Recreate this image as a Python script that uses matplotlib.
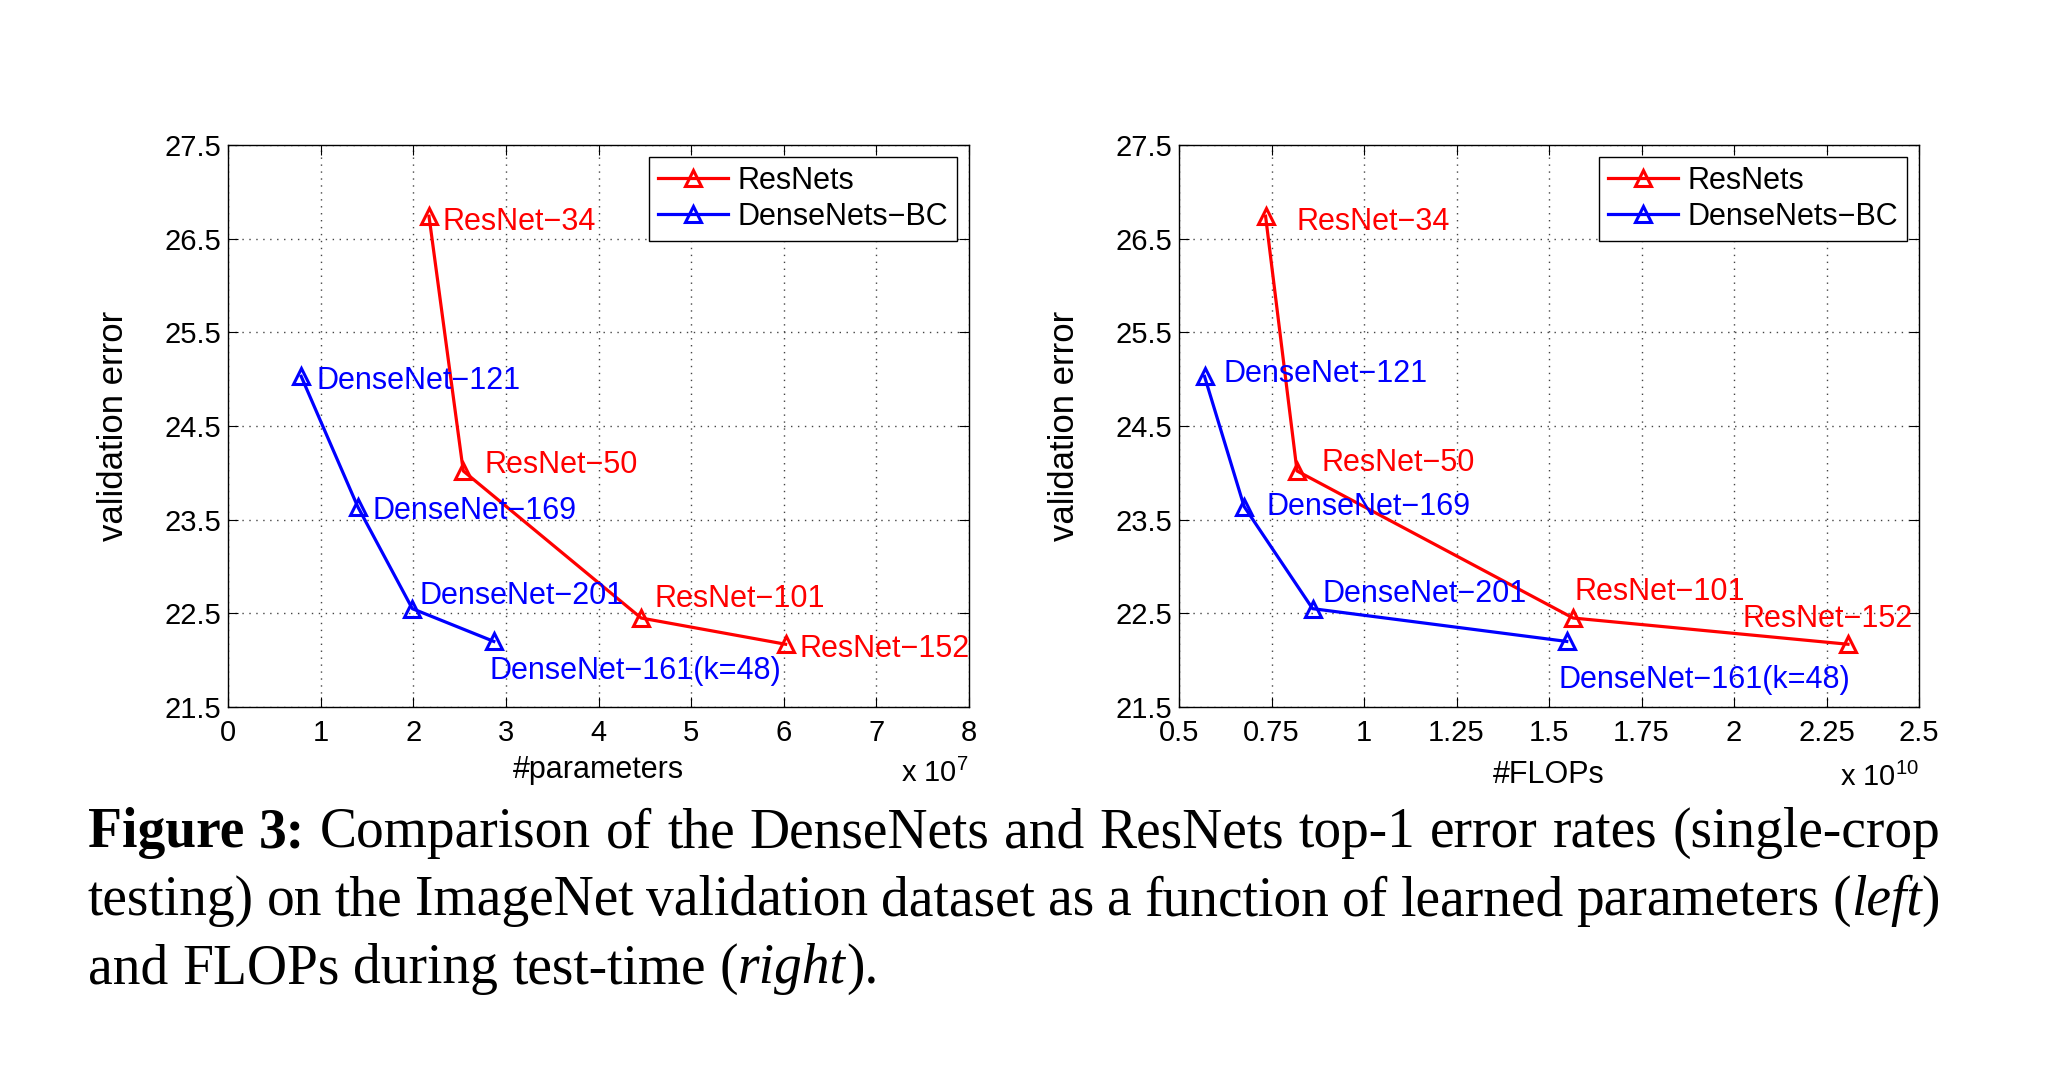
import re
import matplotlib
matplotlib.use('Agg')
import matplotlib.pyplot as plt
from matplotlib.ticker import FuncFormatter

plt.rcParams['font.family'] = ['Liberation Sans', 'DejaVu Sans']
plt.rcParams['mathtext.fontset'] = 'custom'
plt.rcParams['mathtext.rm'] = 'Liberation Sans'
plt.rcParams['mathtext.it'] = 'Liberation Sans:italic'

# valores
resnet_names = ['ResNet−34', 'ResNet−50', 'ResNet−101', 'ResNet−152']
resnet_err = [26.74, 24.02, 22.45, 22.17]
resnet_params = [2.17, 2.54, 4.46, 6.02]      # x 1e7
resnet_flops = [0.734, 0.819, 1.565, 2.308]   # x 1e10

densenet_names = ['DenseNet−121', 'DenseNet−169', 'DenseNet−201', 'DenseNet−161(k=48)']
densenet_err = [25.03, 23.64, 22.55, 22.20]
densenet_params = [0.79, 1.40, 1.99, 2.87]
densenet_flops = [0.569, 0.676, 0.861, 1.548]

params_ticks = [0, 1, 2, 3, 4, 5, 6, 7, 8]
flops_ticks = [0.5, 0.75, 1, 1.25, 1.5, 1.75, 2, 2.25, 2.5]
err_ticks = [21.5, 22.5, 23.5, 24.5, 25.5, 26.5, 27.5]

# desplazamiento de las etiquetas (pixeles)
left_res_off = [(14, -2), (21, 9), (13, 23), (14, -1)]
left_dense_off = [(15, -1), (15, -1), (7, 16), (-4, -26)]
right_res_off = [(31, -2), (24, 11), (1, 30), (-105, 29)]
right_dense_off = [(19, 6), (22, 3), (10, 18), (-8, -35)]

caption_lines = [
    "**Figure** **3:** Comparison of the DenseNets and ResNets top-1 error rates (single-crop",
    "testing) on the ImageNet validation dataset as a function of learned parameters (*left*)",
    "and FLOPs during test-time (*right*).",
]

W, H = 2048, 1075
fig = plt.figure(figsize=(W / 100, H / 100), dpi=100)

ax1 = fig.add_axes([228 / W, 1 - 707 / H, 741 / W, 562 / H])
ax2 = fig.add_axes([1179 / W, 1 - 707 / H, 740 / W, 562 / H])


def draw_panel(ax, xr, xd, res_off, dense_off, xticks, xlabel, expo, xlab_y, expo_y):
    ax.plot(xr, resnet_err, '-^', color='#ff0000', lw=2.3, ms=12, mfc='none',
            mew=2.2, label='ResNets', zorder=3)
    ax.plot(xd, densenet_err, '-^', color='#0000ff', lw=2.3, ms=12, mfc='none',
            mew=2.2, label='DenseNets−BC', zorder=3)
    for name, x, y, off in zip(resnet_names, xr, resnet_err, res_off):
        ax.annotate(name, (x, y), xytext=off, textcoords='offset pixels',
                    color='#ff0000', fontsize=22, ha='left', va='center_baseline')
    for name, x, y, off in zip(densenet_names, xd, densenet_err, dense_off):
        ax.annotate(name, (x, y), xytext=off, textcoords='offset pixels',
                    color='#0000ff', fontsize=22, ha='left', va='center_baseline')

    ax.set_xlim(xticks[0], xticks[-1])
    ax.set_ylim(err_ticks[0], err_ticks[-1])
    ax.set_xticks(xticks)
    ax.set_yticks(err_ticks)
    ax.xaxis.set_major_formatter(FuncFormatter(lambda v, p: '%g' % v))
    ax.yaxis.set_major_formatter(FuncFormatter(lambda v, p: '%.1f' % v))
    ax.tick_params(direction='in', top=True, right=True, length=7, width=0.8,
                   labelsize=21, colors='black')
    ax.tick_params(axis='x', pad=8.5)
    ax.tick_params(axis='y', pad=5)
    ax.grid(True, color='#444444', linestyle=(0, (1, 4)), linewidth=1.0)
    ax.set_axisbelow(True)
    for s in ax.spines.values():
        s.set_linewidth(1.0)
        s.set_color('black')

    ax.set_xlabel(xlabel, fontsize=22, va='center')
    ax.xaxis.set_label_coords(0.5, -xlab_y / 562)
    ax.set_ylabel('validation error', fontsize=25, va='center')
    ax.yaxis.set_label_coords(-114 / 740, 0.5)
    ax.text(1.0, -expo_y / 562, r'x 10$^{%d}$' % expo, transform=ax.transAxes,
            ha='right', va='baseline', fontsize=21)

    leg = ax.legend(loc='upper right', fontsize=22, frameon=True, fancybox=False,
                    framealpha=1, edgecolor='black', borderaxespad=0.38,
                    handlelength=2.3, handletextpad=0.3, labelspacing=0.2,
                    borderpad=0.3, numpoints=1)
    leg.get_frame().set_linewidth(1.0)


draw_panel(ax1, resnet_params, densenet_params, left_res_off, left_dense_off,
           params_ticks, '#parameters', 7, 63, 75)
draw_panel(ax2, resnet_flops, densenet_flops, right_res_off, right_dense_off,
           flops_ticks, '#FLOPs', 10, 68, 79)

# pie de figura justificado
renderer = fig.canvas.get_renderer()
x0, x1 = 88, 1940
baselines = [847, 915, 983]
for i, (line, yb) in enumerate(zip(caption_lines, baselines)):
    words = []
    for w in line.split(' '):
        segs = []
        for piece in re.split(r'(\*\*[^*]+\*\*|\*[^*]+\*)', w):
            if not piece:
                continue
            if piece.startswith('**'):
                segs.append((piece[2:-2], 'bold', 'normal'))
            elif piece.startswith('*'):
                segs.append((piece[1:-1], 'normal', 'italic'))
            else:
                segs.append((piece, 'normal', 'normal'))
        texts = [fig.text(0, 1 - yb / H, s, fontsize=40, family='Liberation Serif',
                          fontweight=fw, style=st, va='baseline', ha='left')
                 for s, fw, st in segs]
        widths = [t.get_window_extent(renderer).width for t in texts]
        words.append((texts, widths))
    total = sum(sum(wd) for _, wd in words)
    if i < len(caption_lines) - 1:
        gap = (x1 - x0 - total) / (len(words) - 1)
    else:
        gap = 0.25 * 40 / 72 * 100
    x = x0
    for texts, widths in words:
        for t, wd in zip(texts, widths):
            t.set_x(x / W)
            x += wd
        x += gap

fig.savefig('out.png', dpi=100)
